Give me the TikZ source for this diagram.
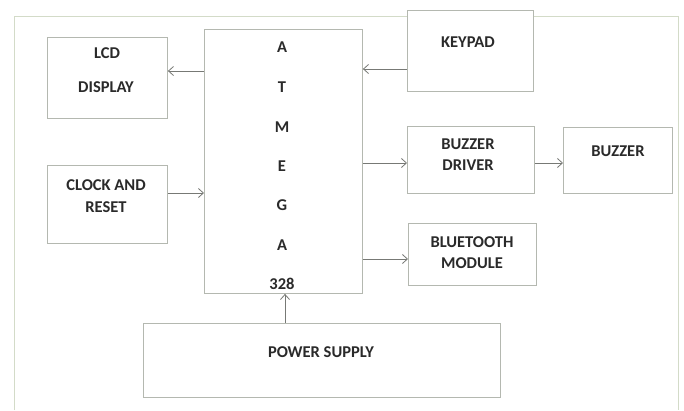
\documentclass[tikz,border=0pt]{standalone}
\usepackage{fontspec}
\setmainfont{Carlito}
\usetikzlibrary{arrows.meta}
\definecolor{boxgray}{HTML}{B4B8B0}
\definecolor{framec}{HTML}{D3DBC8}
\definecolor{arrc}{HTML}{777975}
\definecolor{txt}{HTML}{2A2A2A}
\begin{document}
\begin{tikzpicture}[x=1pt,y=-1pt,
  box/.style={draw=boxgray,fill=white,line width=0.9pt,inner sep=0pt,anchor=north west},
  lbl/.style={text=txt,font=\fontsize{16.5}{19}\selectfont\bfseries,inner sep=0pt,anchor=center},
  arr/.style={draw=arrc,line width=0.8pt,-{Straight Barb[length=5pt,width=9pt]}}]
\useasboundingbox (0,0) rectangle (684,410);
\fill[white] (0,0) rectangle (684,410);
\draw[framec,line width=0.9pt] (14,410) -- (14,16) -- (678,16) -- (678,410);
% boxes
\node[box,minimum width=120pt,minimum height=81pt] (lcd) at (47,37) {};
\node[box,minimum width=158pt,minimum height=264pt] (atmega) at (204,29) {};
\node[box,minimum width=126pt,minimum height=81pt] (keypad) at (407,10) {};
\node[box,minimum width=120pt,minimum height=78pt] (clock) at (47,165) {};
\node[box,minimum width=127pt,minimum height=67pt] (bdriver) at (407,126) {};
\node[box,minimum width=109pt,minimum height=66pt] (buzzer) at (563,127) {};
\node[box,minimum width=128pt,minimum height=62pt] (bt) at (408,223) {};
\node[box,minimum width=357pt,minimum height=74pt] (power) at (143,323) {};
% texts
\node[lbl] (t1) at (107,53) {LCD};
\node[lbl] (t2) at (106,87) {DISPLAY};
\node[lbl] (a1) at (282,47) {A};
\node[lbl] (a2) at (282,87) {T};
\node[lbl] (a3) at (282,127) {M};
\node[lbl] (a4) at (282,166) {E};
\node[lbl] (a5) at (282,205) {G};
\node[lbl] (a6) at (282,245) {A};
\node[lbl] (a7) at (282,284) {328};
\node[lbl] (t3) at (468,42) {KEYPAD};
\node[lbl] (t4) at (106,185) {CLOCK AND};
\node[lbl] (t5) at (106,207) {RESET};
\node[lbl] (t6) at (468,144) {BUZZER};
\node[lbl] (t7) at (468,165) {DRIVER};
\node[lbl] (t8) at (618,151) {BUZZER};
\node[lbl] (t9) at (472,242) {BLUETOOTH};
\node[lbl] (t10) at (472,263) {MODULE};
\node[lbl] (t11) at (321,352) {POWER SUPPLY};
% arrow levels
\coordinate (ylcd) at (0,71);
\coordinate (yclk) at (0,193);
\coordinate (ykey) at (0,69);
\coordinate (ybd) at (0,163);
\coordinate (ybt) at (0,259);
\coordinate (xpw) at (285,0);
\draw[arr] (atmega.west |- ylcd) -- (lcd.east |- ylcd);
\draw[arr] (clock.east |- yclk) -- (atmega.west |- yclk);
\draw[arr] (keypad.west |- ykey) -- (atmega.east |- ykey);
\draw[arr] (atmega.east |- ybd) -- (bdriver.west |- ybd);
\draw[arr] (bdriver.east |- ybd) -- (buzzer.west |- ybd);
\draw[arr] (atmega.east |- ybt) -- (bt.west |- ybt);
\draw[arr] (power.north -| xpw) -- (atmega.south -| xpw);
\end{tikzpicture}
\end{document}
